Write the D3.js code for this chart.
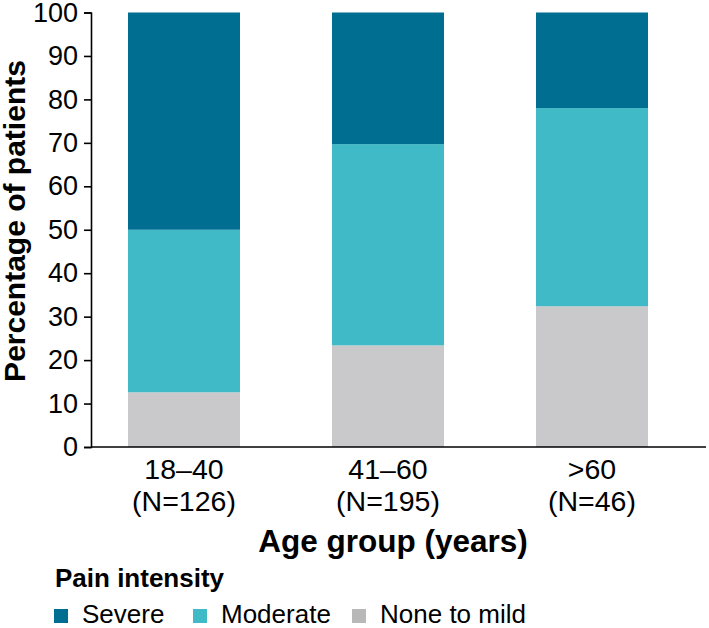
<!DOCTYPE html>
<html>
<head>
<meta charset="utf-8">
<script src="https://cdn.jsdelivr.net/npm/d3@7"></script>
<style>
  body { margin: 0; background: #fff; }
  text { font-family: "Liberation Sans", Arial, sans-serif; fill: #000; }
</style>
</head>
<body>
<div id="chart"></div>
<script>
const width = 709
const height = 628

// data
const groups = ["18–40", "41–60", ">60"]
const groupN = ["(N=126)", "(N=195)", "(N=46)"]
const noneToMild = [12.6, 23.4, 32.4]
const moderate = [37.4, 46.3, 45.6]
const severe = [50.0, 30.3, 22.0]
const yTicks = [0, 10, 20, 30, 40, 50, 60, 70, 80, 90, 100]
const seriesNames = ["Severe", "Moderate", "None to mild"]
const colors = {"None to mild": "#c9c8ca", "Moderate": "#3fbac6", "Severe": "#006e90"}

const svg = d3.select("div#chart").append("svg").attr("width", width).attr("height", height)

const y = d3.scaleLinear().domain([0, 100]).range([447, 12.5])
const x = d3.scaleBand().domain(groups).range([82, 694]).paddingInner(0.451).paddingOuter(0.2255)

// stack from bottom: none to mild, moderate, severe
const rows = groups.map((g, i) => ({group: g, "None to mild": noneToMild[i], "Moderate": moderate[i], "Severe": severe[i]}))
const stack = d3.stack().keys(["None to mild", "Moderate", "Severe"])(rows)

const barGroup = svg.append("g").attr("id", "barGroup")
barGroup.selectAll("g").data(stack).enter().append("g")
    .attr("fill", d => colors[d.key])
    .selectAll("rect").data(d => d).enter().append("rect")
    .attr("x", d => x(d.data.group))
    .attr("width", x.bandwidth())
    .attr("y", d => y(d[1]))
    .attr("height", d => y(d[0]) - y(d[1]))

// y axis
const yAxis = d3.axisLeft(y).tickValues(yTicks).tickSize(7).tickSizeOuter(7).tickPadding(6)
const yAxisGroup = svg.append("g").attr("transform", "translate(91, 0)").call(yAxis)
yAxisGroup.selectAll("path, line").attr("stroke", "#000").attr("stroke-width", 1.6)
yAxisGroup.selectAll("text").style("font-size", "27px").attr("font-family", "Liberation Sans, Arial, sans-serif").attr("fill", "#000")

// x axis line
svg.append("line").attr("x1", 91).attr("x2", 706).attr("y1", 447).attr("y2", 447)
    .attr("stroke", "#000").attr("stroke-width", 1.6)

// category labels
const xLabels = svg.append("g")
groups.forEach((g, i) => {
    const cx = x(g) + x.bandwidth() / 2
    xLabels.append("text").attr("x", cx).attr("y", 479).attr("text-anchor", "middle").style("font-size", "28.5px").text(g)
    xLabels.append("text").attr("x", cx).attr("y", 511).attr("text-anchor", "middle").style("font-size", "28.5px").text(groupN[i])
})

svg.append("text").text("Age group (years)")
    .attr("x", 393).attr("y", 552).attr("text-anchor", "middle")
    .style("font-size", "31.5px").attr("font-weight", 700)

svg.append("text").text("Percentage of patients")
    .attr("transform", "translate(25, 221) rotate(-90)").attr("text-anchor", "middle")
    .style("font-size", "30px").attr("font-weight", 700)

// legend
svg.append("text").text("Pain intensity").attr("x", 55).attr("y", 587)
    .style("font-size", "26px").attr("font-weight", 700)

const legendX = [54, 193, 352]
const legendSwatch = ["#006e90", "#3fbac6", "#b8b8b8"]
seriesNames.forEach((s, i) => {
    svg.append("rect").attr("x", legendX[i]).attr("y", 609).attr("width", 14).attr("height", 14).attr("fill", legendSwatch[i])
    svg.append("text").attr("x", legendX[i] + 28).attr("y", 623).style("font-size", "26px").text(s)
})
</script>
</body>
</html>
